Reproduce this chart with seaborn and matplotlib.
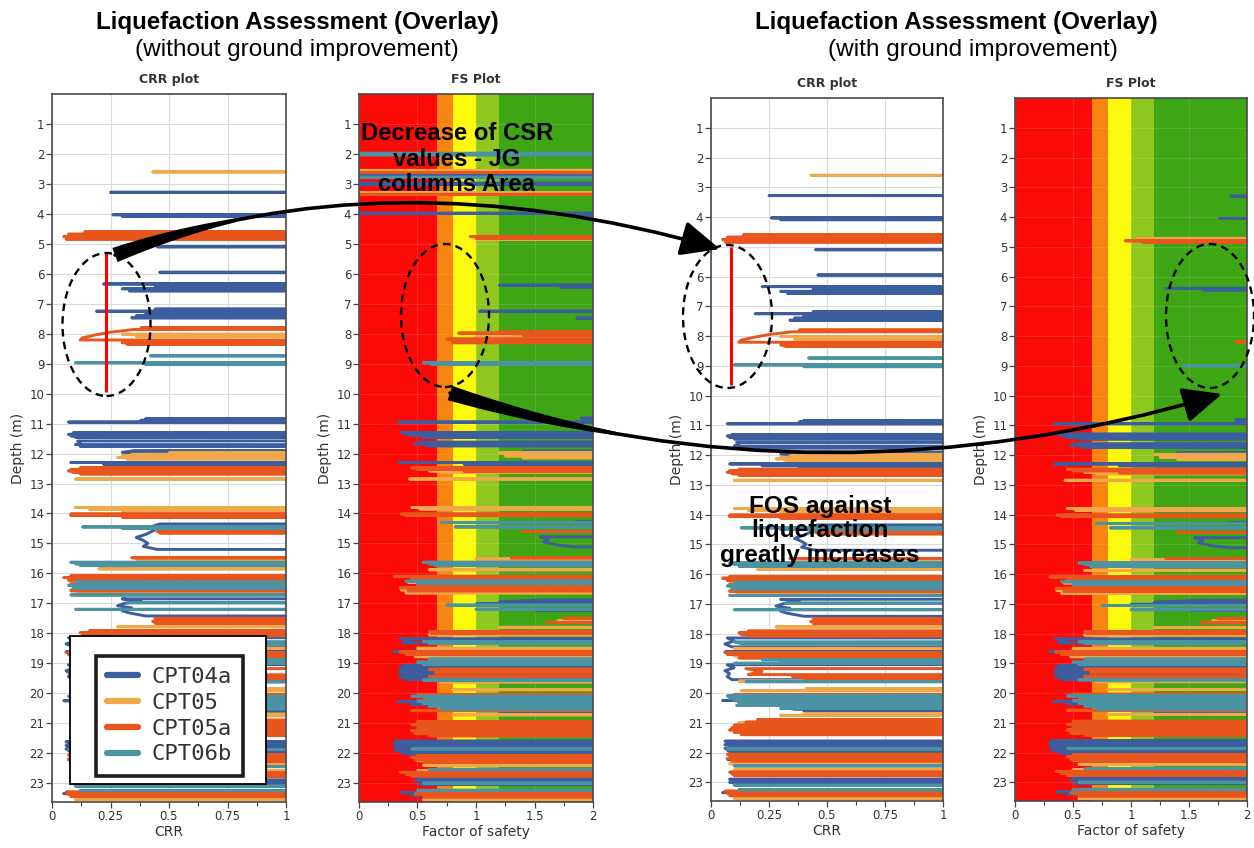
import numpy as np
import pandas as pd
import matplotlib
matplotlib.use("Agg")
import matplotlib.pyplot as plt
import seaborn as sns
from matplotlib.patches import Ellipse, Rectangle, Polygon, FancyArrowPatch
from matplotlib.path import Path
from matplotlib.lines import Line2D
from matplotlib.ticker import MultipleLocator

# ---------------------------------------------------------------------------
# Data: CPT profiles written as runs of (depth m, value) points.
# A run of one point is a single excursion below the non-liquefiable cap;
# longer runs are stretches where the profile stays low.
# ---------------------------------------------------------------------------
CPT_NAMES = ["CPT04a", "CPT05", "CPT05a", "CPT06b"]
CPT_COLORS = ["#3d5e9e", "#f0a84a", "#e8561e", "#4b93a3"]

CRR_CPT04A = [
    [(3.28, 0.25)],
    [(4.03, 0.26)], [(4.09, 0.30)],
    [(5.10, 0.45)],
    [(5.95, 0.46)],
    [(6.34, 0.22)], [(6.42, 0.44)], [(6.50, 0.30)], [(6.57, 0.33)],
    [(7.18, 0.44)], [(7.25, 0.19)], [(7.33, 0.40)], [(7.40, 0.36)], [(7.47, 0.34)],
    [(10.84, 0.40)], [(10.89, 0.38)], [(10.95, 0.07)],
    [(11.31, 0.09)], [(11.36, 0.07)], [(11.41, 0.08)], [(11.46, 0.10)],
    [(11.58, 0.11), (11.65, 0.12), (11.70, 0.10)], [(11.76, 0.12)],
    [(11.90, 0.35), (11.96, 0.30), (12.00, 0.33)],
    [(12.30, 0.08)], [(12.36, 0.22)], [(12.42, 0.38)],
    [(14.35, 0.46), (14.45, 0.42), (14.55, 0.44), (14.70, 0.40), (14.80, 0.36),
     (14.90, 0.39), (15.00, 0.41), (15.10, 0.39), (15.20, 0.45)],
    [(16.85, 0.30), (16.92, 0.38), (17.00, 0.31), (17.08, 0.28), (17.15, 0.34),
     (17.25, 0.30), (17.32, 0.33), (17.42, 0.40)],
    [(18.15, 0.07), (18.25, 0.10), (18.35, 0.06), (18.45, 0.09)],
    [(18.62, 0.06)],
    [(19.05, 0.07), (19.15, 0.10), (19.25, 0.06), (19.35, 0.08), (19.45, 0.07), (19.55, 0.09)],
    [(20.25, 0.05)],
    [(20.45, 0.30), (20.55, 0.36)], [(20.60, 0.40)],
    [(21.62, 0.06)], [(21.68, 0.07)], [(21.74, 0.06)], [(21.80, 0.08)], [(21.86, 0.06)],
    [(21.92, 0.07)], [(21.98, 0.08)],
    [(22.22, 0.07)],
    [(22.90, 0.08)], [(22.95, 0.09)], [(23.00, 0.08)], [(23.06, 0.10)],
    [(23.35, 0.05)], [(23.42, 0.09)],
]

CRR_CPT05 = [
    [(2.60, 0.43)],
    [(4.66, 0.18)], [(4.80, 0.22)],
    [(8.02, 0.30)], [(8.10, 0.36)],
    [(11.98, 0.50)], [(12.03, 0.34)], [(12.08, 0.30)], [(12.13, 0.28)], [(12.18, 0.32)],
    [(12.62, 0.30)],
    [(12.85, 0.10)],
    [(13.80, 0.10)], [(13.86, 0.16)],
    [(13.95, 0.30)],
    [(15.52, 0.36)],
    [(15.85, 0.20)],
    [(16.32, 0.08)], [(16.55, 0.08)], [(16.66, 0.11)],
    [(17.78, 0.28)],
    [(18.50, 0.10)],
    [(18.75, 0.10)],
    [(19.60, 0.12)],
    [(19.85, 0.41)], [(19.92, 0.13)],
    [(20.70, 0.40)], [(20.75, 0.30)],
    [(21.00, 0.12)],
    [(22.38, 0.08)],
    [(22.58, 0.10)],
    [(23.55, 0.10)],
]

CRR_CPT05A = [
    [(4.60, 0.14)], [(4.68, 0.07)], [(4.76, 0.05)], [(4.84, 0.06)],
    [(7.80, 0.38)],
    [(7.86, 0.35), (7.95, 0.25), (8.05, 0.18), (8.14, 0.13), (8.21, 0.12)],
    [(8.30, 0.30)], [(8.35, 0.32)],
    [(12.48, 0.12)], [(12.53, 0.08)], [(12.58, 0.07)], [(12.63, 0.09)], [(12.68, 0.12)],
    [(14.02, 0.08)], [(14.07, 0.08)], [(14.12, 0.30)],
    [(14.60, 0.45)], [(14.65, 0.46)],
    [(15.48, 0.34)],
    [(16.08, 0.08)], [(16.14, 0.05)], [(16.22, 0.07)], [(16.36, 0.08)], [(16.46, 0.09)], [(16.58, 0.08)],
    [(17.50, 0.44)], [(17.55, 0.45)], [(17.60, 0.43)], [(17.66, 0.44)],
    [(17.92, 0.16)], [(17.98, 0.12)], [(18.04, 0.13)], [(18.08, 0.16)],
    [(18.64, 0.06)], [(18.70, 0.07)], [(18.82, 0.12)],
    [(19.18, 0.15), (19.28, 0.22), (19.38, 0.16)], [(19.44, 0.35)], [(19.50, 0.40)],
    [(20.05, 0.10)], [(20.15, 0.12)],
    [(20.90, 0.20)], [(20.98, 0.15)], [(21.08, 0.10)], [(21.16, 0.09)], [(21.24, 0.08)],
    [(21.32, 0.10)], [(21.40, 0.13)],
    [(22.06, 0.07)], [(22.12, 0.08)], [(22.20, 0.07)], [(22.28, 0.09)],
    [(22.66, 0.08)], [(22.72, 0.09)], [(22.78, 0.10)],
    [(23.30, 0.06)], [(23.37, 0.07)], [(23.45, 0.08)],
]

CRR_CPT06B = [
    [(8.74, 0.42)],
    [(8.97, 0.10)], [(9.03, 0.40)],
    [(14.45, 0.13)], [(14.50, 0.30)],
    [(15.63, 0.08)], [(15.68, 0.10)], [(15.74, 0.12)],
    [(16.28, 0.10)], [(16.40, 0.07)], [(16.50, 0.09)], [(16.72, 0.08)],
    [(16.98, 0.32)],
    [(17.20, 0.10)],
    [(18.28, 0.10), (18.36, 0.14)],
    [(18.88, 0.22)], [(18.94, 0.30)], [(19.00, 0.10)],
    [(19.62, 0.15)],
    [(20.10, 0.07)], [(20.18, 0.08)], [(20.26, 0.10)], [(20.34, 0.12)], [(20.42, 0.11)],
    [(20.52, 0.30)],
    [(21.88, 0.07)],
    [(22.45, 0.10)],
    [(23.10, 0.10)],
    [(23.25, 0.12)],
]

# Factor of safety, upper layers (2-10 m) without ground improvement
FS_TOP_BEFORE_CPT04A = [
    [(2.68, 0.0)], [(2.98, 0.0)], [(3.02, 0.0)], [(3.98, 0.0)], [(4.04, 1.86)],
    [(6.38, 1.20)], [(6.44, 1.72)], [(7.25, 1.03)], [(7.48, 1.86)],
]
FS_TOP_BEFORE_CPT05 = [[(2.55, 0.0)], [(3.30, 0.0)], [(4.85, 1.00)], [(8.10, 1.00)]]
FS_TOP_BEFORE_CPT05A = [
    [(2.62, 0.0)], [(3.35, 0.0)], [(4.76, 0.95)], [(4.81, 1.00)],
    [(7.93, 1.20)], [(7.98, 0.85)], [(8.05, 1.40)], [(8.18, 0.75)], [(8.30, 0.80)],
]
FS_TOP_BEFORE_CPT06B = [
    [(1.98, 0.0)], [(2.03, 0.0)], [(2.78, 0.0)], [(8.97, 0.55)], [(9.02, 0.62)],
]

# Factor of safety, upper layers (2-10 m) with jet-grout columns
FS_TOP_AFTER_CPT04A = [[(3.30, 1.86)], [(4.05, 1.76)], [(6.40, 1.30)], [(6.45, 1.62)]]
FS_TOP_AFTER_CPT05 = [[(4.72, 1.05)], [(4.78, 1.20)]]
FS_TOP_AFTER_CPT05A = [[(4.80, 0.95)], [(4.84, 1.10)], [(8.20, 1.90)]]
FS_TOP_AFTER_CPT06B = [[(9.00, 1.45)]]

# Factor of safety below the improved zone (same in both cases)
FS_DEEP_CPT04A = [
    [(10.82, 1.90)], [(10.88, 1.92)], [(10.95, 0.34)],
    [(11.30, 0.36)], [(11.35, 0.40)], [(11.40, 0.45)], [(11.46, 0.55)],
    [(11.62, 0.52), (11.68, 0.48)], [(11.74, 0.58)],
    [(11.92, 1.40)],
    [(12.30, 0.34)], [(12.36, 0.90)],
    [(14.28, 1.85)],
    [(14.78, 1.55), (14.86, 1.62), (14.95, 1.58), (15.05, 1.70), (15.12, 1.85)],
    [(16.10, 0.50)],
    [(16.88, 1.60), (16.95, 1.20)], [(17.02, 1.00)], [(17.22, 1.50)],
    [(18.18, 0.35), (18.26, 0.45), (18.32, 0.38)],
    [(18.60, 0.30), (18.66, 0.42)],
    [(19.08, 0.38)], [(19.14, 0.35)], [(19.22, 0.36)], [(19.30, 0.34)], [(19.38, 0.37)],
    [(19.46, 0.35)], [(19.54, 0.40)],
    [(20.28, 0.33)], [(20.36, 0.45)],
    [(20.52, 0.80)], [(20.62, 1.20)],
    [(21.60, 0.32)], [(21.66, 0.30)], [(21.72, 0.33)], [(21.78, 0.30)], [(21.84, 0.32)],
    [(21.90, 0.31)], [(21.96, 0.35)], [(22.02, 0.40)],
    [(22.86, 0.50)], [(22.92, 0.48)], [(22.98, 0.55)], [(23.04, 0.52)],
    [(23.32, 0.36)], [(23.40, 0.45)],
]
FS_DEEP_CPT05 = [
    [(11.98, 1.20)], [(12.03, 1.30)], [(12.08, 1.25)], [(12.14, 1.40)],
    [(12.58, 0.60)], [(12.63, 0.70)],
    [(12.85, 0.43)],
    [(13.80, 0.45)], [(13.85, 0.52)],
    [(15.52, 1.00)],
    [(15.88, 0.60)],
    [(16.30, 0.42)], [(16.55, 0.36)], [(16.65, 0.40)],
    [(17.58, 1.70)],
    [(17.80, 1.20)],
    [(18.05, 0.60)],
    [(18.50, 0.50)],
    [(18.78, 0.48)],
    [(19.62, 0.70)],
    [(19.88, 0.80)],
    [(20.72, 0.80)],
    [(21.02, 0.55)],
    [(21.25, 0.45)],
    [(22.25, 0.50)],
    [(22.40, 0.55)],
    [(22.58, 0.50)],
    [(23.55, 0.55)],
]
FS_DEEP_CPT05A = [
    [(12.48, 0.45)], [(12.53, 0.50)], [(12.60, 0.90)],
    [(14.02, 0.36)], [(14.07, 0.40)],
    [(14.60, 1.40)],
    [(15.48, 1.30)],
    [(16.10, 0.30)], [(16.18, 0.45)], [(16.38, 0.50)], [(16.48, 0.35)], [(16.58, 0.42)],
    [(17.50, 1.75)], [(17.64, 1.60)],
    [(17.94, 0.60)], [(18.00, 0.62)],
    [(18.62, 0.35)], [(18.70, 0.40)],
    [(19.20, 0.60)], [(19.32, 0.65)], [(19.44, 0.60)],
    [(20.04, 0.50)], [(20.14, 0.55)],
    [(20.58, 0.45)],
    [(20.95, 0.50)], [(21.05, 0.45)], [(21.15, 0.50)], [(21.25, 0.45)], [(21.35, 0.48)], [(21.42, 0.60)],
    [(22.08, 0.50)], [(22.14, 0.45)], [(22.22, 0.48)], [(22.30, 0.55)],
    [(22.64, 0.35)], [(22.70, 0.40)], [(22.76, 0.45)],
    [(23.28, 0.50)], [(23.36, 0.48)], [(23.46, 0.55)],
]
FS_DEEP_CPT06B = [
    [(14.30, 0.70)], [(14.45, 0.82)],
    [(15.63, 0.55)], [(15.68, 0.60)], [(15.74, 0.65)],
    [(16.26, 0.40)], [(16.34, 0.50)],
    [(17.06, 0.75)], [(17.20, 1.00)],
    [(18.28, 0.55)], [(18.34, 0.60)],
    [(18.86, 0.60)], [(18.96, 0.50)], [(19.04, 0.55)],
    [(19.56, 0.55)],
    [(20.10, 0.45)], [(20.18, 0.60)], [(20.26, 0.50)], [(20.34, 0.55)], [(20.44, 0.60)],
    [(20.54, 0.70)],
    [(21.86, 0.45)],
    [(22.54, 0.60)],
    [(23.00, 0.55)],
    [(23.24, 0.50)],
]

# FS colour zones: edges and colours
FS_ZONE_EDGES = [0.0, 0.667, 0.8, 1.0, 1.2, 2.0]
FS_ZONE_COLORS = ["#fb0a08", "#f7840e", "#fcf90c", "#8ec81e", "#3ea514"]

CRR_TICKS = [0, 0.25, 0.5, 0.75, 1]
CRR_TICK_LABELS = ["0", "0.25", "0.5", "0.75", "1"]
FS_TICKS = [0, 0.5, 1, 1.5, 2]
FS_TICK_LABELS = ["0", "0.5", "1", "1.5", "2"]
DEPTH_TICKS = list(range(1, 24))

# ---------------------------------------------------------------------------
sns.set_theme(style="ticks")
plt.rcParams["font.family"] = ["DejaVu Sans"]

W, H = 1254, 848
fig = plt.figure(figsize=(W / 100, H / 100), dpi=100)
fig.patch.set_facecolor("white")


def px(x, y):
    """Figure-fraction position of an image pixel (origin top-left)."""
    return x / W, 1 - y / H


def add_axes(left, top, right, bottom):
    return fig.add_axes([left / W, 1 - bottom / H, (right - left) / W, (bottom - top) / H])


HI = 3.0  # off-scale value used between low excursions


def profile_frame(groups):
    rows = []
    for name, runs in zip(CPT_NAMES, groups):
        for run in runs:
            rows.append((name, HI, run[0][0] - 0.008))
            for d, v in run:
                rows.append((name, v, d))
            rows.append((name, HI, run[-1][0] + 0.008))
    return pd.DataFrame(rows, columns=["cpt", "value", "depth"])


crr_df = profile_frame([CRR_CPT04A, CRR_CPT05, CRR_CPT05A, CRR_CPT06B])
fs_before_df = profile_frame([
    FS_TOP_BEFORE_CPT04A + FS_DEEP_CPT04A,
    FS_TOP_BEFORE_CPT05 + FS_DEEP_CPT05,
    FS_TOP_BEFORE_CPT05A + FS_DEEP_CPT05A,
    FS_TOP_BEFORE_CPT06B + FS_DEEP_CPT06B,
])
fs_after_df = profile_frame([
    FS_TOP_AFTER_CPT04A + FS_DEEP_CPT04A,
    FS_TOP_AFTER_CPT05 + FS_DEEP_CPT05,
    FS_TOP_AFTER_CPT05A + FS_DEEP_CPT05A,
    FS_TOP_AFTER_CPT06B + FS_DEEP_CPT06B,
])

palette = dict(zip(CPT_NAMES, CPT_COLORS))
TXT = "#333333"


def style_axis(ax, kind, title):
    ax.set_ylim(23.63, 0)
    ax.set_yticks(DEPTH_TICKS)
    ax.set_yticklabels([str(t) for t in DEPTH_TICKS])
    if kind == "crr":
        ax.set_xlim(0, 1)
        ax.set_xticks(CRR_TICKS)
        ax.set_xticklabels(CRR_TICK_LABELS)
        ax.xaxis.set_minor_locator(MultipleLocator(0.125))
        ax.set_xlabel("CRR", fontsize=10, color=TXT, labelpad=2)
        ax.grid(True, color="#dadada", lw=0.8)
    else:
        ax.set_xlim(0, 2)
        ax.set_xticks(FS_TICKS)
        ax.set_xticklabels(FS_TICK_LABELS)
        ax.xaxis.set_minor_locator(MultipleLocator(0.25))
        ax.set_xlabel("Factor of safety", fontsize=10, color=TXT, labelpad=2)
        ax.grid(True, color="white", alpha=0.12, lw=0.8)
    ax.set_axisbelow(True)
    ax.set_ylabel("Depth (m)", fontsize=10, color=TXT, labelpad=3)
    ax.set_title(title, fontsize=9, fontweight="bold", color=TXT, pad=8)
    ax.tick_params(axis="both", which="major", labelsize=8.5, colors="#444444",
                   labelcolor=TXT, length=4, width=0.9, pad=1.5)
    ax.tick_params(axis="x", which="minor", length=3, width=0.8, colors="#444444")
    for s in ax.spines.values():
        s.set_visible(True)
        s.set_color("#4a4a4a")
        s.set_linewidth(1.2)


def draw_profiles(ax, df):
    sns.lineplot(data=df, x="value", y="depth", hue="cpt", hue_order=CPT_NAMES,
                 palette=palette, sort=False, estimator=None, linewidth=2.1,
                 legend=False, ax=ax, zorder=2)


def draw_zones(ax):
    for lo, hi, c in zip(FS_ZONE_EDGES[:-1], FS_ZONE_EDGES[1:], FS_ZONE_COLORS):
        ax.axvspan(lo, hi, color=c, lw=0, zorder=0)


# --- panels ---------------------------------------------------------------
ax_crr_l = add_axes(52, 94, 286, 802)
ax_fs_l = add_axes(359, 94, 593, 802)
ax_crr_r = add_axes(711, 98, 943, 801)
ax_fs_r = add_axes(1015, 98, 1247, 801)

draw_profiles(ax_crr_l, crr_df)
style_axis(ax_crr_l, "crr", "CRR plot")

draw_zones(ax_fs_l)
draw_profiles(ax_fs_l, fs_before_df)
style_axis(ax_fs_l, "fs", "FS Plot")

draw_profiles(ax_crr_r, crr_df)
style_axis(ax_crr_r, "crr", "CRR plot")

draw_zones(ax_fs_r)
draw_profiles(ax_fs_r, fs_after_df)
style_axis(ax_fs_r, "fs", "FS Plot")

# red markers over the jet-grout depth range
ax_crr_l.plot([0.23, 0.23], [5.3, 9.95], color="#ff0000", lw=2.2, zorder=5, solid_capstyle="butt")
ax_crr_r.plot([0.086, 0.086], [5.0, 9.66], color="#ff0000", lw=2.2, zorder=5, solid_capstyle="butt")

# --- headings ---------------------------------------------------------------
HEAD_FONT = ["Liberation Sans", "DejaVu Sans"]
fig.text(*px(297, 22), "Liquefaction Assessment (Overlay)", ha="center", va="center",
         fontsize=17.4, fontweight="bold", family=HEAD_FONT, color="black")
fig.text(*px(297, 50), "(without ground improvement)", ha="center", va="center",
         fontsize=17.6, family=HEAD_FONT, color="black")
fig.text(*px(956, 22), "Liquefaction Assessment (Overlay)", ha="center", va="center",
         fontsize=17.4, fontweight="bold", family=HEAD_FONT, color="black")
fig.text(*px(973, 50), "(with ground improvement)", ha="center", va="center",
         fontsize=17.6, family=HEAD_FONT, color="black")

fig.text(*px(457, 159), "Decrease of CSR\nvalues - JG\ncolumns Area", ha="center", va="center",
         fontsize=17.2, fontweight="bold", family=HEAD_FONT, color="black",
         linespacing=1.12, zorder=8)
fig.text(*px(820, 531), "FOS against\nliquefaction\ngreatly increases", ha="center", va="center",
         fontsize=17.6, fontweight="bold", family=HEAD_FONT, color="black",
         linespacing=1.1, zorder=8)

# --- legend -----------------------------------------------------------------
fig.add_artist(Rectangle(px(70, 784), 196 / W, 148 / H, transform=fig.transFigure,
                         facecolor="white", edgecolor="black", lw=1.3, zorder=4))
handles = [Line2D([], [], color=c, lw=4.5) for c in CPT_COLORS]
leg = fig.legend(handles, CPT_NAMES, loc="upper left", bbox_to_anchor=px(96, 656),
                 bbox_transform=fig.transFigure, frameon=True, fancybox=False,
                 edgecolor="#1e1e1e", facecolor="white", framealpha=1,
                 prop={"family": "DejaVu Sans Mono", "size": 16}, labelcolor=TXT,
                 handlelength=1.4, handletextpad=0.6, labelspacing=0.26,
                 borderpad=0.5, borderaxespad=0)
leg.get_frame().set_linewidth(2.6)
leg.set_zorder(5)

# --- dashed ellipses --------------------------------------------------------
for cx, cy, w, h in [(106.5, 324.5, 88, 143), (445, 315.5, 88, 143),
                     (727.5, 316.5, 89, 143), (1210, 316, 88, 144)]:
    fig.add_artist(Ellipse(px(cx, cy), w / W, h / H, transform=fig.transFigure,
                           fill=False, edgecolor="black", lw=1.7, ls=(0, (3.2, 2.2)),
                           zorder=7, clip_on=False))


# --- curved arrows ----------------------------------------------------------
def curved_arrow(p0, p1, p2, w0=7.5, w1=1.8, tmax=0.22):
    verts = [px(*p0), px(*p1), px(*p2)]
    path = Path(verts, [Path.MOVETO, Path.CURVE3, Path.CURVE3])
    arr = FancyArrowPatch(path=path, arrowstyle="-|>,head_length=1.0,head_width=0.45",
                          mutation_scale=24, color="black", lw=2.6,
                          transform=fig.transFigure, zorder=8)
    fig.add_artist(arr)
    # tapered tail near the start of the arrow
    p0, p1, p2 = map(np.asarray, (p0, p1, p2))
    t = np.linspace(0, tmax, 40)[:, None]
    pts = (1 - t) ** 2 * p0 + 2 * (1 - t) * t * p1 + t ** 2 * p2
    tan = 2 * (1 - t) * (p1 - p0) + 2 * t * (p2 - p1)
    tan /= np.linalg.norm(tan, axis=1, keepdims=True)
    nrm = np.column_stack([-tan[:, 1], tan[:, 0]])
    half = (w0 + (w1 - w0) * t[:, 0] / tmax)[:, None]
    outline = np.vstack([pts + nrm * half, (pts - nrm * half)[::-1]])
    fig.add_artist(Polygon([px(x, y) for x, y in outline], closed=True,
                           facecolor="black", edgecolor="none",
                           transform=fig.transFigure, zorder=8))


curved_arrow((115, 255), (384, 154), (720, 249))
curved_arrow((450, 393), (824, 511), (1222, 394))

fig.savefig("out.png", dpi=100, facecolor="white")
